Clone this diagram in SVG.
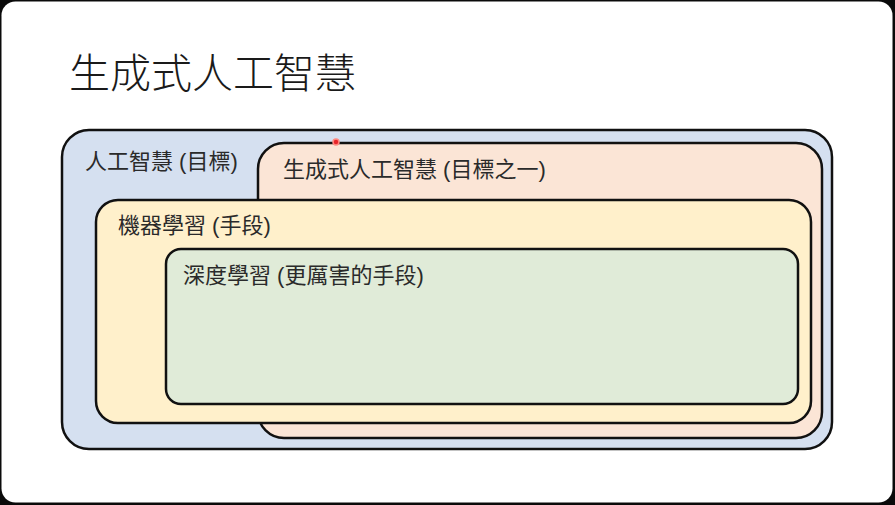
<svg xmlns="http://www.w3.org/2000/svg" width="895" height="505" viewBox="0 0 895 505">
<style>
.box{stroke:#111;stroke-width:2.5}
.lbl{font-family:"Liberation Sans","Noto Sans CJK TC",sans-serif;font-size:22px;fill:#2a2a2a}
.title{font-family:"Noto Sans CJK TC",sans-serif;font-size:41px;font-weight:300;fill:#1a1a1a}
</style>
<rect x="0" y="0" width="895" height="505" fill="#0a0a0a"/>
<rect x="1.5" y="1.5" width="891" height="501" rx="14" fill="#ffffff"/>
<text class="title" x="69" y="88">生成式人工智慧</text>
<g id="ai">
<rect class="box" x="62" y="130" width="770" height="319" rx="27" fill="#d5e0f0"/>
<text class="lbl" x="85" y="169">人工智慧 (目標)</text>
</g>
<g id="genai">
<rect class="box" x="258" y="143" width="564" height="295" rx="26" fill="#fbe5d6"/>
<text class="lbl" x="283" y="177">生成式人工智慧 (目標之一)</text>
</g>
<g id="ml">
<rect class="box" x="96" y="200" width="715" height="223" rx="22" fill="#fff0cb"/>
<text class="lbl" x="118" y="233">機器學習 (手段)</text>
</g>
<g id="dl">
<rect class="box" x="166" y="249" width="632" height="155" rx="15" fill="#e0ebd8"/>
<text class="lbl" x="183" y="283">深度學習 (更厲害的手段)</text>
</g>
<g id="connectors"></g>
<circle cx="336" cy="142" r="3" fill="#e8242a" stroke="#ff8a80" stroke-width="1.5"/>
</svg>
